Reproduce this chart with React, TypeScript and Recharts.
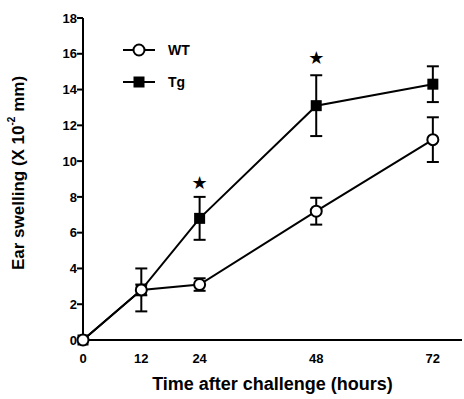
import React from "react";
import {
  LineChart,
  Line,
  XAxis,
  YAxis,
  ErrorBar,
  Legend,
  ReferenceDot,
} from "recharts";

const hours = [0, 12, 24, 48, 72];
const wtMean = [0, 2.8, 3.1, 7.2, 11.2];
const wtSem = [0, 0.3, 0.35, 0.75, 1.25];
const tgMean = [0, 2.8, 6.8, 13.1, 14.3];
const tgSem = [0, 1.2, 1.2, 1.7, 1.0];
const xTicks = [0, 12, 24, 48, 72];
const yTicks = [0, 2, 4, 6, 8, 10, 12, 14, 16, 18];
const starHours = [24, 48];
const starLevels = [8.8, 15.8];

const FONT = "'Liberation Sans', Arial, Helvetica, sans-serif";

const data = hours.map((h, i) => ({
  hour: h,
  wt: wtMean[i],
  wtErr: wtSem[i],
  tg: tgMean[i],
  tgErr: tgSem[i],
}));

const OpenCircle = (props: any) => {
  const { cx, cy } = props;
  if (cx == null || cy == null) return null;
  return <circle cx={cx} cy={cy} r={5.5} fill="#fff" stroke="#000" strokeWidth={2} />;
};

const FilledSquare = (props: any) => {
  const { cx, cy } = props;
  if (cx == null || cy == null) return null;
  return <rect x={cx - 5.5} y={cy - 5.5} width={11} height={11} fill="#000" />;
};

const LegendBox = () => (
  <svg width={90} height={50} style={{ display: "block" }}>
    <line x1={8} y1={10} x2={40} y2={10} stroke="#000" strokeWidth={2} />
    <circle cx={24} cy={10} r={5.5} fill="#fff" stroke="#000" strokeWidth={2} />
    <text x={53} y={15} fontFamily={FONT} fontWeight="bold" fontSize={14}>
      WT
    </text>
    <line x1={8} y1={42} x2={40} y2={42} stroke="#000" strokeWidth={2} />
    <rect x={18.5} y={36.5} width={11} height={11} fill="#000" />
    <text x={53} y={47} fontFamily={FONT} fontWeight="bold" fontSize={14}>
      Tg
    </text>
  </svg>
);

const YLabel = (props: any) => {
  const vb = props.viewBox || {};
  const cx = 18;
  const cy = (vb.y ?? 18) + (vb.height ?? 322) / 2 - 6;
  return (
    <text
      x={cx}
      y={cy}
      transform={`rotate(-90, ${cx}, ${cy})`}
      textAnchor="middle"
      dominantBaseline="central"
      fontFamily={FONT}
      fontWeight="bold"
      fontSize={17}
      fill="#000"
    >
      Ear swelling (X 10
      <tspan fontSize={10} dy={-7}>
        -2
      </tspan>
      <tspan dy={7}> mm)</tspan>
    </text>
  );
};

const Star = (props: any) => {
  const { viewBox } = props;
  if (!viewBox) return null;
  return (
    <text
      x={viewBox.x}
      y={viewBox.y}
      textAnchor="middle"
      dominantBaseline="central"
      fontFamily="'DejaVu Sans', sans-serif"
      fontSize={18}
      fill="#000"
    >
      ★
    </text>
  );
};

export default function App() {
  return (
    <div style={{ position: "absolute", left: 0, top: 0, background: "#fff" }}>
      <LineChart
        width={464}
        height={399}
        data={data}
        margin={{ top: 18, right: 2, bottom: 9, left: 8 }}
      >
        <XAxis
          dataKey="hour"
          type="number"
          domain={[0, 78]}
          ticks={xTicks}
          tickLine={false}
          tickSize={12}
          axisLine={{ stroke: "#000", strokeWidth: 2 }}
          tick={{ fill: "#000", fontSize: 13, fontWeight: "bold", fontFamily: FONT }}
          height={50}
          label={{
            value: "Time after challenge (hours)",
            position: "insideBottom",
            offset: 0,
            style: { fill: "#000", fontSize: 18, fontWeight: "bold", fontFamily: FONT },
          }}
        />
        <YAxis
          type="number"
          domain={[0, 18]}
          ticks={yTicks}
          width={75}
          tickSize={6}
          tickLine={{ stroke: "#000", strokeWidth: 2 }}
          axisLine={{ stroke: "#000", strokeWidth: 2 }}
          tick={{ fill: "#000", fontSize: 13, fontWeight: "bold", fontFamily: FONT }}
          tickMargin={0}
          label={<YLabel />}
        />
        <Legend
          layout="horizontal"
          verticalAlign="middle"
          align="center"
          content={<LegendBox />}
          wrapperStyle={{ position: "absolute", left: 115, top: 40, width: 90 }}
        />
        <Line
          type="linear"
          dataKey="tg"
          name="Tg"
          stroke="#000"
          strokeWidth={2}
          dot={<FilledSquare />}
          activeDot={false}
          isAnimationActive={false}
        >
          <ErrorBar dataKey="tgErr" direction="y" width={6} stroke="#000" strokeWidth={2} />
        </Line>
        <Line
          type="linear"
          dataKey="wt"
          name="WT"
          stroke="#000"
          strokeWidth={2}
          dot={<OpenCircle />}
          activeDot={false}
          isAnimationActive={false}
        >
          <ErrorBar dataKey="wtErr" direction="y" width={6} stroke="#000" strokeWidth={2} />
        </Line>
        {starHours.map((h, i) => (
          <ReferenceDot
            key={h}
            x={h}
            y={starLevels[i]}
            r={0}
            fill="none"
            stroke="none"
            label={<Star />}
          />
        ))}
      </LineChart>
    </div>
  );
}
